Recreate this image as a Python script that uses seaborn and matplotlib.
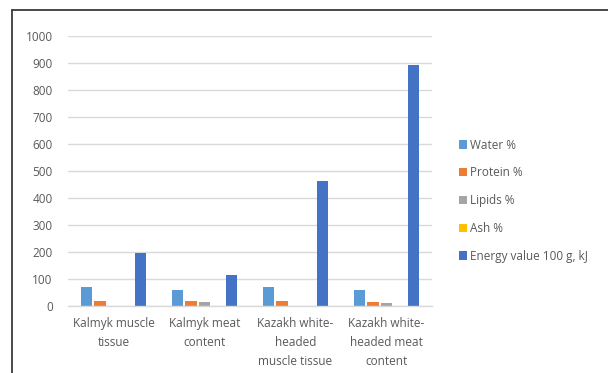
import matplotlib
matplotlib.use("Agg")
import matplotlib.pyplot as plt
import seaborn as sns
import pandas as pd
from matplotlib.lines import Line2D

categories = ["Kalmyk muscle\ntissue", "Kalmyk meat\ncontent",
              "Kazakh white-\nheaded\nmuscle tissue", "Kazakh white-\nheaded meat\ncontent"]
series = ["Water %", "Protein %", "Lipids %", "Ash %", "Energy value 100 g, kJ"]
water = [70, 60, 70, 60]
protein = [20, 20, 20, 16]
lipids = [1, 16, 1, 11]
ash = [1, 1, 1, 1]
energy = [198, 116, 463, 893]
colors = ["#5B9BD5", "#ED7D31", "#A5A5A5", "#FFC000", "#4472C4"]

values = [water, protein, lipids, ash, energy]
rows = []
for s, vals in zip(series, values):
    for c, v in zip(categories, vals):
        rows.append({"category": c, "series": s, "value": v})
df = pd.DataFrame(rows)

sns.set_theme(style="white")
plt.rcParams['font.family'] = ['Open Sans', 'DejaVu Sans']
text_color = "#595959"

fig = plt.figure(figsize=(6.08, 3.73), dpi=100)
ax = fig.add_axes([68/608, 1-306/373, 364/608, 270/373])

sns.barplot(data=df, x="category", y="value", hue="series", order=categories,
            hue_order=series, palette=colors, width=0.74, gap=0.12, ax=ax,
            saturation=1, legend=True, linewidth=0)

ax.set_ylim(0, 1000)
ax.set_yticks(range(0, 1001, 100))
ax.set_xlim(-0.5, 3.5)
ax.grid(axis="y", color="#d9d9d9", linewidth=1)
ax.set_axisbelow(True)
for side in ["top", "right", "left"]:
    ax.spines[side].set_visible(False)
ax.spines["bottom"].set_color("#d9d9d9")
ax.spines["bottom"].set_linewidth(1)
ax.set_xlabel("")
ax.set_ylabel("")
ax.tick_params(axis="y", length=0, pad=11, labelsize=8.5, labelcolor=text_color)
ax.tick_params(axis="x", length=0, pad=8, labelsize=8.5, labelcolor=text_color)
for lbl in ax.get_xticklabels():
    lbl.set_linespacing(1.6)

handles, labels = ax.get_legend_handles_labels()
ax.legend_.remove()
leg = fig.legend(handles, labels, loc="upper left", bbox_to_anchor=(448/608, 1-128/373),
                 frameon=False, fontsize=8.5, handlelength=0.7, handleheight=0.7,
                 handletextpad=0.3, labelspacing=1.25, labelcolor=text_color)

fig.add_artist(Line2D([11.5/608, 11.5/608], [0, 1-9.5/373], transform=fig.transFigure,
                      color="#3a3a3a", linewidth=1.3))
fig.add_artist(Line2D([11.5/608, 1], [1-9.5/373, 1-9.5/373], transform=fig.transFigure,
                      color="#3a3a3a", linewidth=1.3))

fig.savefig("out.png", dpi=100)
